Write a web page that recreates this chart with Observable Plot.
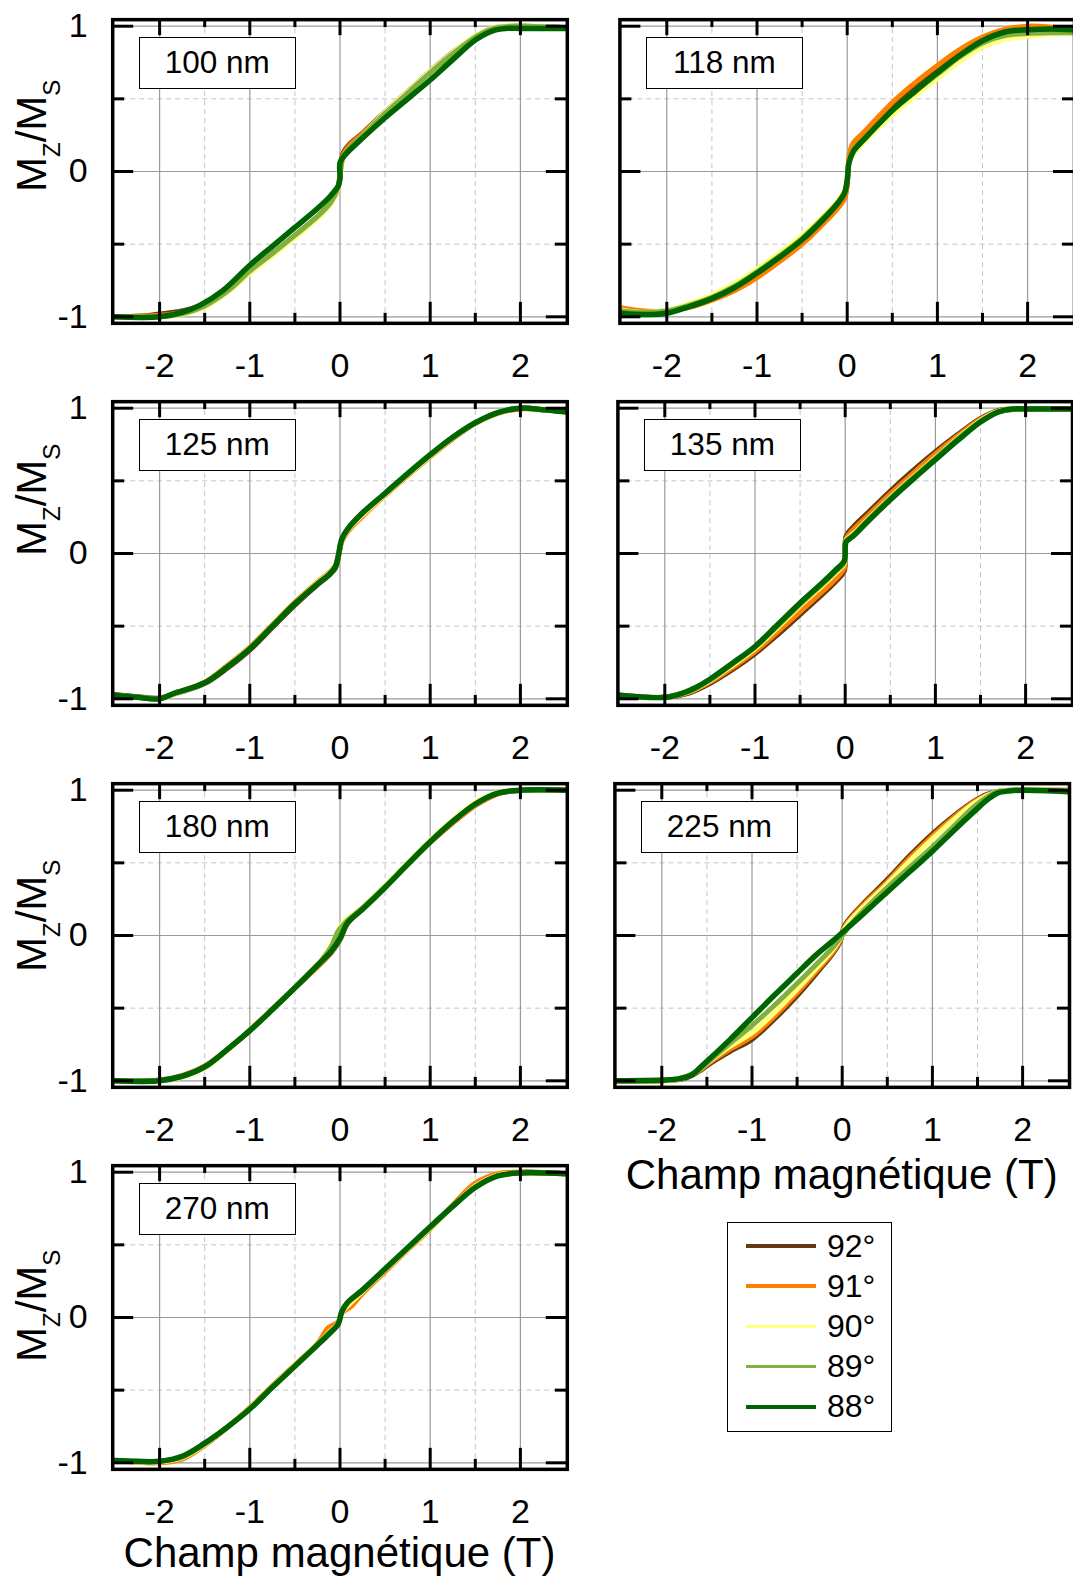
<!DOCTYPE html>
<html>
<head>
<meta charset="utf-8">
<script src="https://cdn.jsdelivr.net/npm/d3@7"></script>
<script src="https://cdn.jsdelivr.net/npm/@observablehq/plot@0.6"></script>
<style>
html, body { margin: 0; padding: 0; background: #fff; }
body { width: 1073px; height: 1577px; overflow: hidden; position: relative; font-family: "Liberation Sans", Arial, sans-serif; color: #000; }
.cell { position: absolute; overflow: visible; }
.cell svg { max-width: none !important; display: block; }
.tag { position: absolute; box-sizing: border-box; border: 1.3px solid #000; background: #fff; font-size: 31.5px; display: flex; align-items: center; justify-content: center; white-space: nowrap; }
.ylab { position: absolute; transform: rotate(-90deg); transform-origin: 0 0; font-size: 42px; line-height: 42px; white-space: nowrap; }
.ylab .sub { font-size: 24px; position: relative; top: 14px; }
.xtitle { position: absolute; font-size: 42px; line-height: 42px; white-space: nowrap; transform: translateX(-50%); }
.legend { position: absolute; box-sizing: border-box; border: 1.6px solid #000; background: #fff; }
.legend .row { position: absolute; left: 0; height: 40px; display: flex; align-items: center; font-size: 32px; }
.legend .sw { width: 70px; height: 3.5px; margin-left: 18px; margin-right: 11px; }
</style>
</head>
<body>
<script>
// ---------- data ----------
const angles = ["92°", "91°", "90°", "89°", "88°"];
const colors = ["#633a12", "#ff8000", "#ffff80", "#80b040", "#006400"];
const xMajor = [-2, -1, 0, 1, 2];
const xMinor = [-1.5, -0.5, 0.5, 1.5];
const yMajor = [-1, 0, 1];
const yMinor = [-0.5, 0.5];
const xTickLabels = ["-2", "-1", "0", "1", "2"];
const yTickLabels = ["-1", "0", "1"];
const panelNames = ["100 nm", "118 nm", "125 nm", "135 nm", "180 nm", "225 nm", "270 nm"];
const xTitle = "Champ magnétique (T)";

// each panel: one curve per angle (92°, 91°, 90°, 89°, 88°), [field (T), Mz/Ms]
const p100 = [
  [[-2.5,-1.0],[-2.2,-0.995],[-2.0,-0.98],[-1.75,-0.96],[-1.5,-0.91],[-1.25,-0.815],[-1.0,-0.685],[-0.75,-0.565],[-0.5,-0.44],[-0.25,-0.31],[-0.1,-0.215],[-0.03,-0.13],[0.0,-0.02],[0.03,0.12],[0.1,0.185],[0.25,0.265],[0.5,0.41],[0.75,0.55],[1.0,0.69],[1.25,0.82],[1.5,0.93],[1.7,0.985],[2.0,1.0],[2.5,0.99]],
  [[-2.5,-1.0],[-2.0,-0.99],[-1.75,-0.97],[-1.5,-0.92],[-1.25,-0.82],[-1.0,-0.69],[-0.75,-0.57],[-0.5,-0.445],[-0.25,-0.315],[-0.1,-0.215],[-0.03,-0.13],[0.0,-0.03],[0.03,0.11],[0.1,0.175],[0.25,0.26],[0.5,0.405],[0.75,0.545],[1.0,0.685],[1.25,0.815],[1.5,0.93],[1.7,0.99],[2.0,1.0],[2.5,0.99]],
  [[-2.5,-1.0],[-2.0,-1.0],[-1.75,-0.985],[-1.5,-0.935],[-1.25,-0.835],[-1.0,-0.70],[-0.75,-0.58],[-0.5,-0.455],[-0.25,-0.325],[-0.1,-0.225],[-0.02,-0.12],[0.01,0.0],[0.04,0.1],[0.12,0.165],[0.25,0.245],[0.5,0.41],[0.75,0.55],[1.0,0.69],[1.25,0.82],[1.5,0.935],[1.7,0.99],[2.0,1.0],[2.5,0.99]],
  [[-2.5,-1.0],[-2.0,-1.0],[-1.75,-0.98],[-1.5,-0.925],[-1.25,-0.825],[-1.0,-0.685],[-0.75,-0.565],[-0.5,-0.44],[-0.25,-0.31],[-0.1,-0.21],[-0.02,-0.11],[0.01,0.02],[0.04,0.11],[0.12,0.17],[0.25,0.245],[0.5,0.40],[0.75,0.54],[1.0,0.68],[1.25,0.81],[1.5,0.925],[1.7,0.985],[2.0,1.0],[2.5,0.99]],
  [[-2.5,-1.0],[-2.0,-1.0],[-1.75,-0.97],[-1.55,-0.92],[-1.3,-0.82],[-1.0,-0.645],[-0.75,-0.515],[-0.5,-0.385],[-0.25,-0.255],[-0.1,-0.165],[-0.02,-0.10],[0.0,-0.05],[0.0,0.06],[0.05,0.11],[0.25,0.23],[0.5,0.37],[0.75,0.50],[1.0,0.63],[1.25,0.77],[1.5,0.905],[1.7,0.97],[1.85,0.985],[2.0,0.985],[2.5,0.985]]
];
const p118 = [
  [[-2.5,-0.95],[-2.25,-0.965],[-2.0,-0.96],[-1.75,-0.93],[-1.5,-0.88],[-1.25,-0.81],[-1.0,-0.72],[-0.75,-0.61],[-0.5,-0.49],[-0.25,-0.34],[-0.1,-0.24],[-0.03,-0.18],[0.0,-0.08],[0.02,0.08],[0.06,0.17],[0.2,0.26],[0.5,0.46],[0.75,0.59],[1.0,0.71],[1.25,0.82],[1.5,0.915],[1.75,0.97],[2.0,0.99],[2.25,0.985],[2.5,0.975]],
  [[-2.5,-0.94],[-2.25,-0.96],[-2.0,-0.96],[-1.75,-0.935],[-1.5,-0.885],[-1.25,-0.82],[-1.0,-0.73],[-0.75,-0.62],[-0.5,-0.50],[-0.25,-0.35],[-0.1,-0.25],[-0.03,-0.19],[0.0,-0.09],[0.02,0.10],[0.06,0.19],[0.2,0.28],[0.5,0.475],[0.75,0.61],[1.0,0.73],[1.25,0.84],[1.5,0.925],[1.75,0.98],[2.0,1.0],[2.25,0.995],[2.5,0.98]],
  [[-2.5,-0.955],[-2.25,-0.97],[-2.0,-0.955],[-1.75,-0.91],[-1.5,-0.85],[-1.25,-0.77],[-1.0,-0.67],[-0.75,-0.56],[-0.5,-0.44],[-0.25,-0.30],[-0.1,-0.20],[-0.03,-0.13],[0.0,-0.05],[0.02,0.06],[0.08,0.13],[0.2,0.21],[0.5,0.39],[0.75,0.52],[1.0,0.64],[1.25,0.76],[1.5,0.855],[1.75,0.91],[2.0,0.93],[2.25,0.945],[2.5,0.95]],
  [[-2.5,-0.96],[-2.25,-0.97],[-2.0,-0.96],[-1.75,-0.92],[-1.5,-0.865],[-1.25,-0.79],[-1.0,-0.69],[-0.75,-0.58],[-0.5,-0.46],[-0.25,-0.31],[-0.1,-0.21],[-0.03,-0.14],[0.0,-0.06],[0.02,0.07],[0.07,0.15],[0.2,0.235],[0.5,0.42],[0.75,0.55],[1.0,0.67],[1.25,0.79],[1.5,0.885],[1.75,0.935],[2.0,0.95],[2.25,0.955],[2.5,0.955]],
  [[-2.5,-0.975],[-2.25,-0.985],[-2.0,-0.975],[-1.75,-0.93],[-1.5,-0.875],[-1.25,-0.80],[-1.0,-0.70],[-0.75,-0.59],[-0.5,-0.47],[-0.25,-0.32],[-0.1,-0.215],[-0.03,-0.15],[0.0,-0.06],[0.02,0.06],[0.07,0.14],[0.2,0.23],[0.5,0.42],[0.75,0.55],[1.0,0.68],[1.25,0.80],[1.5,0.90],[1.75,0.96],[2.0,0.975],[2.25,0.98],[2.5,0.975]]
];
const p125 = [
  [[-2.5,-0.97],[-2.25,-0.985],[-2.0,-0.995],[-1.85,-0.97],[-1.5,-0.895],[-1.25,-0.79],[-1.0,-0.665],[-0.75,-0.51],[-0.5,-0.355],[-0.25,-0.215],[-0.12,-0.15],[-0.05,-0.10],[-0.02,-0.03],[0.02,0.09],[0.08,0.155],[0.25,0.27],[0.5,0.405],[0.75,0.54],[1.0,0.67],[1.25,0.79],[1.5,0.895],[1.75,0.97],[2.0,1.0],[2.25,0.99],[2.5,0.975]],
  [[-2.5,-0.975],[-2.25,-0.99],[-2.0,-1.0],[-1.85,-0.965],[-1.5,-0.885],[-1.25,-0.77],[-1.0,-0.645],[-0.75,-0.49],[-0.5,-0.335],[-0.25,-0.195],[-0.12,-0.13],[-0.05,-0.08],[-0.02,-0.02],[0.02,0.08],[0.08,0.145],[0.25,0.255],[0.5,0.40],[0.75,0.535],[1.0,0.665],[1.25,0.79],[1.5,0.895],[1.75,0.965],[2.0,0.995],[2.25,0.99],[2.5,0.975]],
  [[-2.5,-0.975],[-2.25,-0.99],[-2.0,-1.0],[-1.85,-0.97],[-1.5,-0.89],[-1.25,-0.775],[-1.0,-0.65],[-0.75,-0.495],[-0.5,-0.34],[-0.25,-0.20],[-0.12,-0.135],[-0.05,-0.085],[-0.02,-0.02],[0.02,0.09],[0.08,0.155],[0.25,0.265],[0.5,0.405],[0.75,0.54],[1.0,0.67],[1.25,0.795],[1.5,0.895],[1.75,0.97],[2.0,1.0],[2.25,0.99],[2.5,0.975]],
  [[-2.5,-0.975],[-2.25,-0.99],[-2.0,-1.0],[-1.85,-0.965],[-1.5,-0.89],[-1.25,-0.78],[-1.0,-0.655],[-0.75,-0.50],[-0.5,-0.345],[-0.25,-0.205],[-0.12,-0.14],[-0.05,-0.09],[-0.02,-0.02],[0.02,0.095],[0.08,0.16],[0.25,0.275],[0.5,0.41],[0.75,0.545],[1.0,0.675],[1.25,0.80],[1.5,0.90],[1.75,0.97],[2.0,1.0],[2.25,0.99],[2.5,0.975]],
  [[-2.5,-0.975],[-2.25,-0.99],[-2.0,-1.0],[-1.85,-0.965],[-1.5,-0.89],[-1.25,-0.78],[-1.0,-0.655],[-0.75,-0.50],[-0.5,-0.345],[-0.25,-0.21],[-0.12,-0.145],[-0.05,-0.09],[-0.02,-0.02],[0.02,0.10],[0.08,0.165],[0.25,0.28],[0.5,0.415],[0.75,0.55],[1.0,0.68],[1.25,0.80],[1.5,0.90],[1.75,0.97],[2.0,1.0],[2.25,0.99],[2.5,0.975]]
];
const p135 = [
  [[-2.5,-0.975],[-2.0,-0.99],[-1.75,-0.965],[-1.5,-0.895],[-1.25,-0.80],[-1.0,-0.69],[-0.75,-0.56],[-0.5,-0.42],[-0.25,-0.28],[-0.1,-0.19],[-0.01,-0.12],[0.01,0.12],[0.1,0.19],[0.25,0.28],[0.5,0.43],[0.75,0.57],[1.0,0.70],[1.25,0.82],[1.5,0.93],[1.7,0.985],[2.0,0.995],[2.5,0.995]],
  [[-2.5,-0.975],[-2.0,-0.99],[-1.75,-0.96],[-1.5,-0.885],[-1.25,-0.785],[-1.0,-0.675],[-0.75,-0.54],[-0.5,-0.40],[-0.25,-0.26],[-0.1,-0.17],[-0.01,-0.10],[0.01,0.10],[0.1,0.17],[0.25,0.26],[0.5,0.41],[0.75,0.55],[1.0,0.685],[1.25,0.81],[1.5,0.925],[1.7,0.98],[2.0,0.995],[2.5,0.995]],
  [[-2.5,-0.975],[-2.0,-0.99],[-1.75,-0.955],[-1.5,-0.875],[-1.25,-0.77],[-1.0,-0.655],[-0.75,-0.51],[-0.5,-0.36],[-0.25,-0.22],[-0.1,-0.13],[-0.01,-0.07],[0.01,0.09],[0.1,0.14],[0.25,0.235],[0.5,0.385],[0.75,0.525],[1.0,0.66],[1.25,0.795],[1.5,0.915],[1.7,0.98],[2.0,0.995],[2.5,0.995]],
  [[-2.5,-0.975],[-2.0,-0.99],[-1.75,-0.955],[-1.5,-0.87],[-1.25,-0.76],[-1.0,-0.645],[-0.75,-0.50],[-0.5,-0.35],[-0.25,-0.21],[-0.1,-0.12],[-0.01,-0.06],[0.01,0.085],[0.1,0.13],[0.25,0.23],[0.5,0.38],[0.75,0.52],[1.0,0.655],[1.25,0.79],[1.5,0.91],[1.7,0.975],[2.0,0.995],[2.5,0.995]],
  [[-2.5,-0.975],[-2.0,-0.99],[-1.8,-0.96],[-1.65,-0.92],[-1.5,-0.865],[-1.25,-0.755],[-1.0,-0.64],[-0.75,-0.49],[-0.5,-0.34],[-0.25,-0.20],[-0.1,-0.11],[-0.01,-0.05],[0.01,0.08],[0.08,0.115],[0.25,0.22],[0.5,0.37],[0.75,0.51],[1.0,0.645],[1.25,0.78],[1.5,0.905],[1.7,0.975],[1.85,0.995],[2.0,0.995],[2.5,0.995]]
];
const p180 = [
  [[-2.5,-1.0],[-2.0,-0.995],[-1.75,-0.965],[-1.5,-0.90],[-1.25,-0.785],[-1.0,-0.655],[-0.75,-0.51],[-0.5,-0.36],[-0.25,-0.215],[-0.1,-0.12],[0.0,-0.03],[0.08,0.08],[0.25,0.19],[0.5,0.34],[0.75,0.49],[1.0,0.64],[1.25,0.775],[1.5,0.895],[1.75,0.975],[2.0,1.0],[2.5,1.0]],
  [[-2.5,-1.0],[-2.0,-1.0],[-1.75,-0.97],[-1.5,-0.90],[-1.25,-0.785],[-1.0,-0.65],[-0.75,-0.505],[-0.5,-0.36],[-0.25,-0.215],[-0.1,-0.115],[0.0,-0.025],[0.08,0.08],[0.25,0.185],[0.5,0.335],[0.75,0.49],[1.0,0.64],[1.25,0.775],[1.5,0.895],[1.75,0.975],[2.0,1.0],[2.5,1.0]],
  [[-2.5,-1.0],[-2.0,-1.0],[-1.75,-0.975],[-1.5,-0.91],[-1.25,-0.79],[-1.0,-0.655],[-0.75,-0.51],[-0.5,-0.355],[-0.25,-0.20],[-0.1,-0.07],[-0.03,0.02],[0.05,0.10],[0.12,0.13],[0.25,0.195],[0.5,0.345],[0.75,0.50],[1.0,0.655],[1.25,0.795],[1.5,0.915],[1.75,0.985],[2.0,1.0],[2.5,1.0]],
  [[-2.5,-1.0],[-2.0,-1.0],[-1.75,-0.97],[-1.5,-0.905],[-1.25,-0.785],[-1.0,-0.655],[-0.75,-0.51],[-0.5,-0.36],[-0.25,-0.205],[-0.1,-0.08],[-0.02,0.03],[0.06,0.09],[0.25,0.19],[0.5,0.335],[0.75,0.49],[1.0,0.645],[1.25,0.785],[1.5,0.905],[1.75,0.98],[2.0,1.0],[2.5,1.0]],
  [[-2.5,-1.0],[-2.0,-1.0],[-1.75,-0.97],[-1.5,-0.905],[-1.25,-0.785],[-1.0,-0.655],[-0.75,-0.51],[-0.5,-0.36],[-0.25,-0.205],[-0.1,-0.11],[0.0,-0.02],[0.08,0.085],[0.25,0.18],[0.5,0.33],[0.75,0.49],[1.0,0.645],[1.25,0.785],[1.5,0.905],[1.75,0.98],[2.0,1.0],[2.5,1.0]]
];
const p225 = [
  [[-2.5,-1.0],[-2.0,-1.0],[-1.75,-0.985],[-1.6,-0.94],[-1.45,-0.875],[-1.25,-0.80],[-1.0,-0.715],[-0.75,-0.575],[-0.5,-0.415],[-0.25,-0.235],[-0.1,-0.12],[-0.02,-0.04],[0.02,0.06],[0.1,0.13],[0.25,0.23],[0.5,0.385],[0.75,0.55],[1.0,0.70],[1.25,0.83],[1.45,0.92],[1.6,0.97],[1.75,0.995],[2.0,1.0],[2.5,1.0]],
  [[-2.5,-1.0],[-2.0,-1.0],[-1.75,-0.98],[-1.6,-0.935],[-1.45,-0.865],[-1.25,-0.785],[-1.0,-0.695],[-0.75,-0.555],[-0.5,-0.395],[-0.25,-0.22],[-0.1,-0.11],[-0.02,-0.03],[0.02,0.05],[0.1,0.12],[0.25,0.22],[0.5,0.37],[0.75,0.535],[1.0,0.685],[1.25,0.82],[1.45,0.915],[1.6,0.965],[1.75,0.995],[2.0,1.0],[2.5,1.0]],
  [[-2.5,-1.0],[-2.0,-1.0],[-1.75,-0.98],[-1.6,-0.93],[-1.45,-0.855],[-1.25,-0.765],[-1.0,-0.67],[-0.75,-0.53],[-0.5,-0.37],[-0.25,-0.20],[-0.1,-0.095],[-0.02,-0.02],[0.02,0.04],[0.1,0.11],[0.25,0.205],[0.5,0.355],[0.75,0.515],[1.0,0.665],[1.25,0.805],[1.45,0.905],[1.6,0.96],[1.75,0.995],[2.0,1.0],[2.5,1.0]],
  [[-2.5,-1.0],[-2.0,-1.0],[-1.75,-0.975],[-1.6,-0.93],[-1.45,-0.85],[-1.25,-0.745],[-1.0,-0.62],[-0.75,-0.48],[-0.5,-0.33],[-0.25,-0.175],[-0.1,-0.08],[0.0,0.0],[0.1,0.08],[0.25,0.18],[0.5,0.33],[0.75,0.47],[1.0,0.61],[1.25,0.76],[1.45,0.88],[1.6,0.95],[1.7,0.985],[1.8,0.995],[2.0,1.0],[2.5,0.995]],
  [[-2.5,-1.0],[-2.0,-0.995],[-1.8,-0.985],[-1.67,-0.96],[-1.56,-0.90],[-1.25,-0.72],[-1.0,-0.565],[-0.75,-0.41],[-0.5,-0.26],[-0.3,-0.14],[-0.1,-0.035],[0.1,0.075],[0.2,0.13],[0.5,0.30],[0.75,0.44],[1.0,0.58],[1.25,0.73],[1.5,0.875],[1.62,0.94],[1.72,0.98],[1.85,0.995],[2.0,1.0],[2.5,0.99]]
];
const p270 = [
  [[-2.5,-0.985],[-2.0,-0.995],[-1.75,-0.965],[-1.5,-0.875],[-1.25,-0.755],[-1.0,-0.625],[-0.75,-0.475],[-0.5,-0.33],[-0.25,-0.185],[-0.12,-0.09],[-0.02,-0.04],[0.02,0.035],[0.12,0.09],[0.25,0.175],[0.5,0.325],[0.75,0.47],[1.0,0.615],[1.25,0.77],[1.5,0.91],[1.75,0.98],[2.0,1.0],[2.5,0.99]],
  [[-2.5,-0.985],[-2.0,-1.0],[-1.75,-0.975],[-1.5,-0.88],[-1.25,-0.755],[-1.0,-0.62],[-0.75,-0.47],[-0.5,-0.325],[-0.25,-0.18],[-0.13,-0.07],[-0.02,-0.03],[0.02,0.03],[0.13,0.08],[0.25,0.165],[0.5,0.315],[0.75,0.465],[1.0,0.61],[1.25,0.775],[1.5,0.925],[1.75,0.99],[2.0,1.0],[2.5,0.99]],
  [[-2.5,-0.985],[-2.0,-0.995],[-1.75,-0.965],[-1.5,-0.875],[-1.25,-0.755],[-1.0,-0.625],[-0.75,-0.475],[-0.5,-0.33],[-0.25,-0.185],[-0.1,-0.09],[-0.02,-0.04],[0.02,0.035],[0.1,0.09],[0.25,0.18],[0.5,0.325],[0.75,0.47],[1.0,0.615],[1.25,0.765],[1.5,0.905],[1.75,0.98],[2.0,0.995],[2.5,0.99]],
  [[-2.5,-0.985],[-2.0,-0.99],[-1.75,-0.96],[-1.5,-0.87],[-1.25,-0.755],[-1.0,-0.63],[-0.75,-0.48],[-0.5,-0.335],[-0.25,-0.19],[-0.1,-0.10],[-0.02,-0.045],[0.02,0.04],[0.08,0.10],[0.25,0.185],[0.5,0.33],[0.75,0.475],[1.0,0.62],[1.25,0.765],[1.5,0.90],[1.75,0.975],[2.0,0.995],[2.5,0.99]],
  [[-2.5,-0.985],[-2.25,-0.99],[-2.0,-0.99],[-1.75,-0.955],[-1.5,-0.865],[-1.25,-0.755],[-1.0,-0.63],[-0.75,-0.48],[-0.5,-0.335],[-0.25,-0.19],[-0.1,-0.10],[-0.02,-0.045],[0.02,0.04],[0.08,0.10],[0.25,0.19],[0.5,0.335],[0.75,0.48],[1.0,0.625],[1.25,0.765],[1.5,0.895],[1.75,0.975],[2.0,0.995],[2.5,0.99]]
];
const panelData = [p100, p118, p125, p135, p180, p225, p270];

// ---------- layout ----------
const X_DOMAIN = [-2.52, 2.52];
const Y_DOMAIN = [-1.045, 1.045];
const X_UNIT = 90.2, Y_UNIT = 145.3;
const FW = (X_DOMAIN[1] - X_DOMAIN[0]) * X_UNIT;
const FH = (Y_DOMAIN[1] - Y_DOMAIN[0]) * Y_UNIT;
const rowY0 = [171, 553, 935, 1317];
const ylabStart = [21, 3, 37, 45];
const panelPos = [
  {col: 0, row: 0, x0: 339.5}, {col: 1, row: 0, x0: 846.7},
  {col: 0, row: 1, x0: 339.5}, {col: 1, row: 1, x0: 844.7},
  {col: 0, row: 2, x0: 339.5}, {col: 1, row: 2, x0: 841.7},
  {col: 0, row: 3, x0: 339.5}
];

const body = document.body;
const font = '"Liberation Sans", Arial, sans-serif';

panelPos.forEach((p, k) => {
  const y0 = rowY0[p.row];
  const cellLeft = p.col === 0 ? 0 : 580;
  const width = p.col === 0 ? 580 : 500;
  const cellTop = y0 - 171;
  const height = 382;
  const frameLeft = p.x0 + X_DOMAIN[0] * X_UNIT;
  const frameTop = y0 - Y_DOMAIN[1] * Y_UNIT;
  const mL = frameLeft - cellLeft;
  const mR = width - mL - FW;
  const mT = frameTop - cellTop;
  const mB = height - mT - FH;
  const tick = {stroke: "black", strokeWidth: 3};
  const marks = [
    Plot.ruleX(xMinor, {stroke: "#c4c4c4", strokeWidth: 1, strokeDasharray: "5,4"}),
    Plot.ruleY(yMinor, {stroke: "#c4c4c4", strokeWidth: 1, strokeDasharray: "5,4"}),
    Plot.ruleX(xMajor, {stroke: "#9a9a9a", strokeWidth: 1.2}),
    Plot.ruleY(yMajor, {stroke: "#9a9a9a", strokeWidth: 1.2}),
    ...panelData[k].map((series, i) => Plot.line(series, {
      x: d => d[0], y: d => d[1], stroke: colors[i], strokeWidth: i === 4 ? 5.5 : 5,
      curve: "catmull-rom", strokeLinejoin: "round", clip: true
    })),
    Plot.ruleX(xMajor, {...tick, insetBottom: FH - 16}),
    Plot.ruleX(xMinor, {...tick, insetBottom: FH - 8}),
    Plot.ruleX(xMajor, {...tick, insetTop: FH - 21}),
    Plot.ruleX(xMinor, {...tick, insetTop: FH - 10}),
    Plot.ruleY(yMajor, {...tick, insetRight: FW - 21}),
    Plot.ruleY(yMinor, {...tick, insetRight: FW - 12}),
    Plot.ruleY(yMajor, {...tick, insetLeft: FW - 21}),
    Plot.ruleY(yMinor, {...tick, insetLeft: FW - 12}),
    Plot.frame({stroke: "black", strokeWidth: 3.5}),
    Plot.axisX(xMajor, {anchor: "bottom", tickSize: 0, tickPadding: 30, fontSize: 34,
      tickFormat: d => xTickLabels[xMajor.indexOf(d)]})
  ];
  if (p.col === 0) {
    marks.push(Plot.axisY(yMajor, {anchor: "left", tickSize: 0, tickPadding: 25, fontSize: 34,
      tickFormat: d => yTickLabels[yMajor.indexOf(d)]}));
  }
  const chart = Plot.plot({
    width, height,
    marginLeft: mL, marginRight: mR, marginTop: mT, marginBottom: mB,
    x: {domain: X_DOMAIN, axis: null},
    y: {domain: Y_DOMAIN, axis: null},
    style: {background: "transparent", fontFamily: font, overflow: "visible", color: "black", maxWidth: "none"},
    marks
  });
  chart.style.maxWidth = "none";
  chart.style.width = width + "px";
  chart.style.height = height + "px";
  const cell = document.createElement("div");
  cell.className = "cell";
  cell.style.left = cellLeft + "px";
  cell.style.top = cellTop + "px";
  cell.style.width = width + "px";
  cell.style.height = height + "px";
  cell.appendChild(chart);
  body.appendChild(cell);

  // thickness label box
  const tag = document.createElement("div");
  tag.className = "tag";
  tag.textContent = panelNames[k];
  tag.style.left = (frameLeft + 26.5) + "px";
  tag.style.top = (frameTop + 18) + "px";
  tag.style.width = "157px";
  tag.style.height = "51.5px";
  body.appendChild(tag);

  // y axis label on left column
  if (p.col === 0) {
    const yl = document.createElement("div");
    yl.className = "ylab";
    yl.innerHTML = 'M<span class="sub">Z</span>/M<span class="sub">S</span>';
    yl.style.left = "10.5px";
    yl.style.top = (y0 + ylabStart[p.row]) + "px";
    body.appendChild(yl);
  }
});

// x axis titles
[[339.5, 1531.5], [841.7, 1153.5]].forEach(([cx, top]) => {
  const t = document.createElement("div");
  t.className = "xtitle";
  t.textContent = xTitle;
  t.style.left = cx + "px";
  t.style.top = top + "px";
  body.appendChild(t);
});

// legend
const leg = document.createElement("div");
leg.className = "legend";
leg.style.left = "727px"; leg.style.top = "1222px";
leg.style.width = "165px"; leg.style.height = "210px";
angles.forEach((a, i) => {
  const row = document.createElement("div");
  row.className = "row";
  row.style.top = (3 + 40.2 * i) + "px";
  const sw = document.createElement("div");
  sw.className = "sw";
  sw.style.background = colors[i];
  const lab = document.createElement("span");
  lab.textContent = a;
  row.appendChild(sw); row.appendChild(lab);
  leg.appendChild(row);
});
body.appendChild(leg);
</script>
</body>
</html>
